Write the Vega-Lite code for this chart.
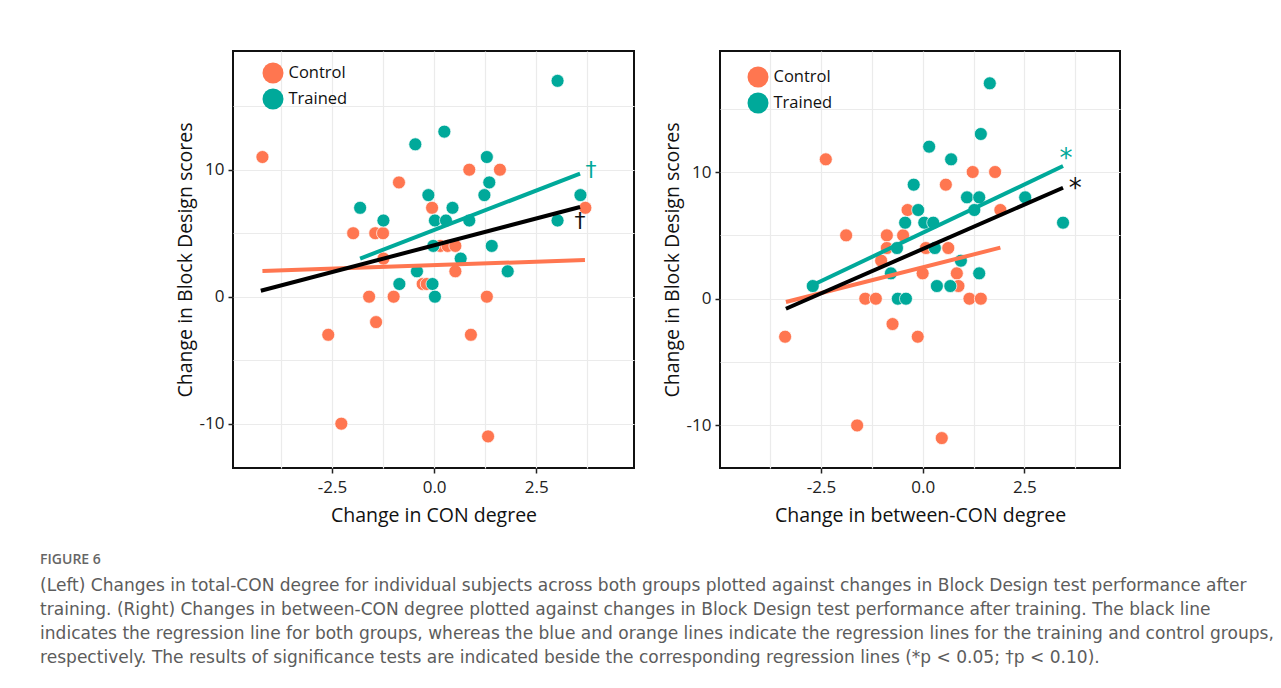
{
  "$schema": "https://vega.github.io/schema/vega-lite/v6.json",
  "background": "white",
  "padding": {"left": 40, "top": 50, "right": 5, "bottom": 5},
  "title": {
    "text": "FIGURE 6",
    "subtitle": [
      "(Left) Changes in total-CON degree for individual subjects across both groups plotted against changes in Block Design test performance after",
      "training. (Right) Changes in between-CON degree plotted against changes in Block Design test performance after training. The black line",
      "indicates the regression line for both groups, whereas the blue and orange lines indicate the regression lines for the training and control groups,",
      "respectively. The results of significance tests are indicated beside the corresponding regression lines (*p < 0.05; †p < 0.10)."
    ],
    "orient": "bottom",
    "anchor": "start",
    "frame": "bounds",
    "dx": -134,
    "offset": 27,
    "font": "Open Sans",
    "fontSize": 14,
    "fontWeight": 600,
    "color": "#666666",
    "subtitleFont": "DejaVu Sans",
    "subtitleFontSize": 17.05,
    "subtitleColor": "#5c5c5c",
    "subtitleLineHeight": 24,
    "subtitlePadding": 11
  },
  "datasets": {
    "left_points": [
      {"group": "Control", "x": -4.2, "y": 11}, {"group": "Control", "x": -2.59, "y": -3}, {"group": "Control", "x": -2.27, "y": -10},
      {"group": "Control", "x": -1.98, "y": 5}, {"group": "Control", "x": -1.59, "y": 0}, {"group": "Control", "x": -1.42, "y": -2},
      {"group": "Control", "x": -1.44, "y": 5}, {"group": "Control", "x": -1.25, "y": 5}, {"group": "Control", "x": -1.24, "y": 3},
      {"group": "Control", "x": -0.86, "y": 9}, {"group": "Control", "x": -0.99, "y": 0}, {"group": "Control", "x": -0.28, "y": 1},
      {"group": "Control", "x": -0.18, "y": 1}, {"group": "Control", "x": -0.05, "y": 7}, {"group": "Control", "x": 0.15, "y": 4},
      {"group": "Control", "x": 0.33, "y": 4}, {"group": "Control", "x": 0.52, "y": 4}, {"group": "Control", "x": 0.52, "y": 2},
      {"group": "Control", "x": 0.86, "y": 10}, {"group": "Control", "x": 0.9, "y": -3}, {"group": "Control", "x": 1.29, "y": 0},
      {"group": "Control", "x": 1.32, "y": -11}, {"group": "Control", "x": 1.61, "y": 10}, {"group": "Control", "x": 3.7, "y": 7},
      {"group": "Trained", "x": -1.81, "y": 7}, {"group": "Trained", "x": -1.24, "y": 6}, {"group": "Trained", "x": -0.46, "y": 12},
      {"group": "Trained", "x": 0.25, "y": 13}, {"group": "Trained", "x": -0.14, "y": 8}, {"group": "Trained", "x": 0.45, "y": 7},
      {"group": "Trained", "x": 0.02, "y": 6}, {"group": "Trained", "x": 0.29, "y": 6}, {"group": "Trained", "x": 0.86, "y": 6},
      {"group": "Trained", "x": 1.29, "y": 11}, {"group": "Trained", "x": 1.35, "y": 9}, {"group": "Trained", "x": 1.23, "y": 8},
      {"group": "Trained", "x": -0.02, "y": 4}, {"group": "Trained", "x": 1.41, "y": 4}, {"group": "Trained", "x": 0.65, "y": 3},
      {"group": "Trained", "x": -0.42, "y": 2}, {"group": "Trained", "x": 1.8, "y": 2}, {"group": "Trained", "x": -0.85, "y": 1},
      {"group": "Trained", "x": -0.04, "y": 1}, {"group": "Trained", "x": 0.02, "y": 0}, {"group": "Trained", "x": 3.02, "y": 17},
      {"group": "Trained", "x": 3.58, "y": 8}, {"group": "Trained", "x": 3.02, "y": 6}
    ],
    "left_lines": [
      {"group": "Control", "x": -4.2, "y": 2.02}, {"group": "Control", "x": 3.69, "y": 2.89},
      {"group": "All", "x": -4.24, "y": 0.47}, {"group": "All", "x": 3.57, "y": 7.06},
      {"group": "Trained", "x": -1.81, "y": 3.0}, {"group": "Trained", "x": 3.57, "y": 9.69}
    ],
    "left_notes": [
      {"group": "Trained", "x": 3.84, "y": 10.0, "label": "†"},
      {"group": "All", "x": 3.57, "y": 6.0, "label": "†"}
    ],
    "right_points": [
      {"group": "Control", "x": -2.38, "y": 11}, {"group": "Control", "x": -1.88, "y": 5}, {"group": "Control", "x": -1.41, "y": 0},
      {"group": "Control", "x": -1.15, "y": 0}, {"group": "Control", "x": -0.88, "y": 5}, {"group": "Control", "x": -0.88, "y": 4},
      {"group": "Control", "x": -1.02, "y": 3}, {"group": "Control", "x": -0.48, "y": 5}, {"group": "Control", "x": -0.37, "y": 7},
      {"group": "Control", "x": 0.57, "y": 9}, {"group": "Control", "x": 1.23, "y": 10}, {"group": "Control", "x": 1.78, "y": 10},
      {"group": "Control", "x": 1.91, "y": 7}, {"group": "Control", "x": 0.08, "y": 4}, {"group": "Control", "x": 0.63, "y": 4},
      {"group": "Control", "x": 0.0, "y": 2}, {"group": "Control", "x": 0.84, "y": 2}, {"group": "Control", "x": 0.88, "y": 1},
      {"group": "Control", "x": 1.15, "y": 0}, {"group": "Control", "x": 1.43, "y": 0}, {"group": "Control", "x": -0.74, "y": -2},
      {"group": "Control", "x": -3.38, "y": -3}, {"group": "Control", "x": -1.61, "y": -10}, {"group": "Control", "x": -0.12, "y": -3},
      {"group": "Control", "x": 0.47, "y": -11},
      {"group": "Trained", "x": -2.7, "y": 1}, {"group": "Trained", "x": -0.78, "y": 2}, {"group": "Trained", "x": -0.63, "y": 4},
      {"group": "Trained", "x": -0.43, "y": 6}, {"group": "Trained", "x": -0.61, "y": 0}, {"group": "Trained", "x": -0.41, "y": 0},
      {"group": "Trained", "x": -0.22, "y": 9}, {"group": "Trained", "x": -0.11, "y": 7}, {"group": "Trained", "x": 0.04, "y": 6},
      {"group": "Trained", "x": 0.26, "y": 6}, {"group": "Trained", "x": 0.16, "y": 12}, {"group": "Trained", "x": 0.3, "y": 4},
      {"group": "Trained", "x": 0.35, "y": 1}, {"group": "Trained", "x": 0.7, "y": 11}, {"group": "Trained", "x": 0.68, "y": 1},
      {"group": "Trained", "x": 0.94, "y": 3}, {"group": "Trained", "x": 1.09, "y": 8}, {"group": "Trained", "x": 1.39, "y": 8},
      {"group": "Trained", "x": 1.27, "y": 7}, {"group": "Trained", "x": 1.39, "y": 2}, {"group": "Trained", "x": 1.43, "y": 13},
      {"group": "Trained", "x": 2.52, "y": 8}, {"group": "Trained", "x": 1.65, "y": 17}, {"group": "Trained", "x": 3.45, "y": 6}
    ],
    "right_lines": [
      {"group": "Control", "x": -3.36, "y": -0.26}, {"group": "Control", "x": 1.91, "y": 4.03},
      {"group": "All", "x": -3.36, "y": -0.79}, {"group": "All", "x": 3.45, "y": 8.76},
      {"group": "Trained", "x": -2.7, "y": 1.08}, {"group": "Trained", "x": 3.45, "y": 10.47}
    ],
    "right_notes": [
      {"group": "Trained", "x": 3.52, "y": 11.0, "label": "*"},
      {"group": "All", "x": 3.75, "y": 8.65, "label": "*"}
    ]
  },
  "hconcat": [
    {
      "width": 401,
      "height": 417,
      "layer": [
        {
          "data": {"name": "left_points"},
          "mark": {"type": "circle", "size": 169, "opacity": 1, "stroke": "white", "strokeWidth": 0.7},
          "encoding": {
            "x": {
              "field": "x", "type": "quantitative",
              "scale": {"domain": [-4.92, 4.89], "nice": false, "zero": false},
              "axis": {
                "title": "Change in CON degree",
                "values": [-3.75, -2.5, -1.25, 0, 1.25, 2.5, 3.75],
                "labelExpr": "abs(datum.value % 2.5) < 0.001 ? ((datum.value < 0 ? '-' : '') + format(abs(datum.value), '.1f')) : ''",
                "tickOpacity": {"condition": {"test": "abs(datum.value % 2.5) < 0.001", "value": 1}, "value": 0},
                "labelPadding": 6, "titlePadding": 11
              }
            },
            "y": {
              "field": "y", "type": "quantitative",
              "scale": {"domain": [-13.49, 19.35], "nice": false, "zero": false},
              "axis": {
                "title": "Change in Block Design scores",
                "values": [-10, -5, 0, 5, 10, 15],
                "labelExpr": "abs(datum.value % 10) < 0.001 ? ((datum.value < 0 ? '-' : '') + format(abs(datum.value), 'd')) : ''",
                "tickOpacity": {"condition": {"test": "abs(datum.value % 10) < 0.001", "value": 1}, "value": 0},
                "labelPadding": 4, "titlePadding": 4
              }
            },
            "color": {
              "field": "group", "type": "nominal",
              "scale": {"domain": ["Control", "Trained"], "range": ["#ff7650", "#00a99a"]},
              "legend": {"title": null, "orient": "none", "legendX": 29.5, "legendY": 11.5}
            }
          }
        },
        {
          "data": {"name": "left_lines"},
          "mark": {"type": "line", "strokeWidth": 4, "strokeCap": "butt"},
          "encoding": {
            "x": {"field": "x", "type": "quantitative"},
            "y": {"field": "y", "type": "quantitative"},
            "detail": {"field": "group"},
            "stroke": {
              "field": "group", "type": "nominal",
              "scale": {"domain": ["All", "Control", "Trained"], "range": ["#000000", "#ff7650", "#00a99a"]},
              "legend": null
            }
          }
        },
        {
          "data": {"name": "left_notes"},
          "mark": {"type": "text", "fontSize": 22, "baseline": "middle", "align": "center", "font": "DejaVu Sans"},
          "encoding": {
            "x": {"field": "x", "type": "quantitative"},
            "y": {"field": "y", "type": "quantitative"},
            "text": {"field": "label"},
            "fill": {
              "field": "group", "type": "nominal",
              "scale": {"domain": ["All", "Trained"], "range": ["#111111", "#00a99a"]},
              "legend": null
            }
          }
        }
      ]
    },
    {
      "width": 400,
      "height": 417,
      "layer": [
        {
          "data": {"name": "right_points"},
          "mark": {"type": "circle", "size": 169, "opacity": 1, "stroke": "white", "strokeWidth": 0.7},
          "encoding": {
            "x": {
              "field": "x", "type": "quantitative",
              "scale": {"domain": [-4.98, 4.85], "nice": false, "zero": false},
              "axis": {
                "title": "Change in between-CON degree",
                "values": [-3.75, -2.5, -1.25, 0, 1.25, 2.5, 3.75],
                "labelExpr": "abs(datum.value % 2.5) < 0.001 ? ((datum.value < 0 ? '-' : '') + format(abs(datum.value), '.1f')) : ''",
                "tickOpacity": {"condition": {"test": "abs(datum.value % 2.5) < 0.001", "value": 1}, "value": 0},
                "labelPadding": 6, "titlePadding": 11
              }
            },
            "y": {
              "field": "y", "type": "quantitative",
              "scale": {"domain": [-13.36, 19.55], "nice": false, "zero": false},
              "axis": {
                "title": "Change in Block Design scores",
                "values": [-10, -5, 0, 5, 10, 15],
                "labelExpr": "abs(datum.value % 10) < 0.001 ? ((datum.value < 0 ? '-' : '') + format(abs(datum.value), 'd')) : ''",
                "tickOpacity": {"condition": {"test": "abs(datum.value % 10) < 0.001", "value": 1}, "value": 0},
                "labelPadding": 4, "titlePadding": 4
              }
            },
            "color": {
              "field": "group", "type": "nominal",
              "scale": {"domain": ["Control", "Trained"], "range": ["#ff7650", "#00a99a"]},
              "legend": {"title": null, "orient": "none", "legendX": 27.5, "legendY": 15.5}
            }
          }
        },
        {
          "data": {"name": "right_lines"},
          "mark": {"type": "line", "strokeWidth": 4, "strokeCap": "butt"},
          "encoding": {
            "x": {"field": "x", "type": "quantitative"},
            "y": {"field": "y", "type": "quantitative"},
            "detail": {"field": "group"},
            "stroke": {
              "field": "group", "type": "nominal",
              "scale": {"domain": ["All", "Control", "Trained"], "range": ["#000000", "#ff7650", "#00a99a"]},
              "legend": null
            }
          }
        },
        {
          "data": {"name": "right_notes"},
          "mark": {"type": "text", "fontSize": 26, "baseline": "middle", "align": "center", "font": "DejaVu Sans"},
          "encoding": {
            "x": {"field": "x", "type": "quantitative"},
            "y": {"field": "y", "type": "quantitative"},
            "text": {"field": "label"},
            "fill": {
              "field": "group", "type": "nominal",
              "scale": {"domain": ["All", "Trained"], "range": ["#111111", "#00a99a"]},
              "legend": null
            }
          }
        }
      ]
    }
  ],
  "spacing": 26,
  "resolve": {
    "scale": {"color": "independent", "x": "independent", "y": "independent"},
    "legend": {"color": "independent"}
  },
  "config": {
    "font": "Open Sans",
    "view": {"stroke": "#111111", "strokeWidth": 2},
    "axis": {
      "domain": false,
      "grid": true,
      "gridColor": "#ebebeb",
      "gridWidth": 1.2,
      "labelFont": "Open Sans",
      "labelFontSize": 17,
      "labelColor": "#222222",
      "titleFont": "Open Sans",
      "titleFontSize": 19.5,
      "titleFontWeight": "normal",
      "titleColor": "#111111",
      "tickColor": "#222222",
      "tickSize": 5,
      "tickWidth": 1.5
    },
    "legend": {
      "labelFont": "Open Sans",
      "labelFontSize": 16.5,
      "labelColor": "#111111",
      "symbolSize": 441,
      "symbolType": "circle",
      "symbolStrokeWidth": 0,
      "rowPadding": 5,
      "labelOffset": 5,
      "padding": 0
    }
  }
}
